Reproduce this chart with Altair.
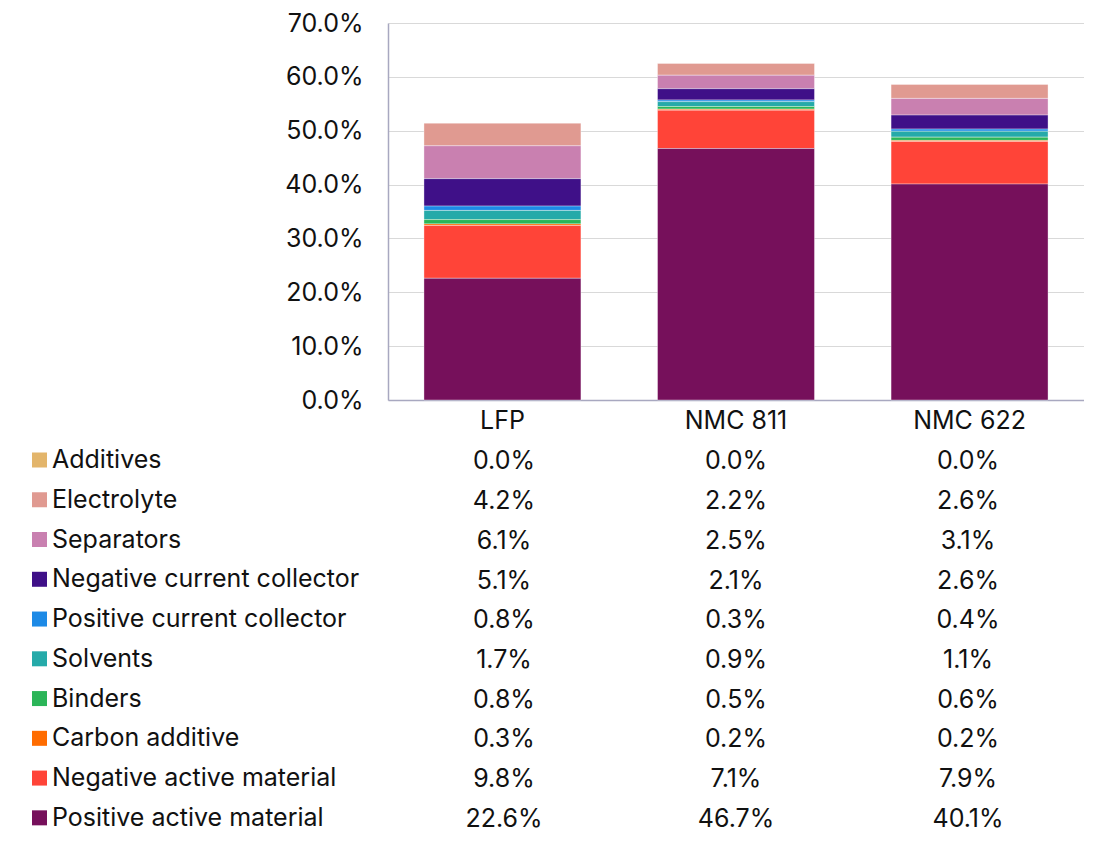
import altair as alt
import pandas as pd

batteries = ["LFP", "NMC 811", "NMC 622"]
components = [
    "Additives",
    "Electrolyte",
    "Separators",
    "Negative current collector",
    "Positive current collector",
    "Solvents",
    "Binders",
    "Carbon additive",
    "Negative active material",
    "Positive active material",
]
colors = [
    "#E3B56B", "#E09A91", "#C980B0", "#3F1088", "#1D8AE6",
    "#25AAA9", "#2BB558", "#FF6C00", "#FF4438", "#76105B",
]
lfp = [0.0, 4.2, 6.1, 5.1, 0.8, 1.7, 0.8, 0.3, 9.8, 22.6]
nmc811 = [0.0, 2.2, 2.5, 2.1, 0.3, 0.9, 0.5, 0.2, 7.1, 46.7]
nmc622 = [0.0, 2.6, 3.1, 2.6, 0.4, 1.1, 0.6, 0.2, 7.9, 40.1]

rows = []
for b, vals in zip(batteries, [lfp, nmc811, nmc622]):
    for i, (c, v) in enumerate(zip(components, vals)):
        rows.append({"battery": b, "component": c, "value": v / 100,
                     "stack": len(components) - i, "row": i})
df = pd.DataFrame(rows)

FONT = "Inter"
FS = 25
TXT = "#111111"

color = alt.Color("component:N",
                  scale=alt.Scale(domain=components, range=colors),
                  legend=alt.Legend(orient="none", legendX=-361, legendY=424.5,
                                    title=None, symbolType="square",
                                    symbolSize=225, symbolStrokeWidth=0,
                                    labelFontSize=FS, labelFont=FONT,
                                    labelColor=TXT, labelOffset=0, padding=0,
                                    rowPadding=13.76, labelLimit=400,
                                    symbolOpacity=1))

xscale = alt.Scale(domain=batteries, paddingInner=0.328, paddingOuter=0.154)

bars = alt.Chart(df).mark_bar(stroke="white", strokeWidth=0.6, strokeOpacity=0.6).encode(
    x=alt.X("battery:N", scale=xscale, sort=batteries, title=None,
            axis=alt.Axis(labelAngle=0, labelFontSize=FS, labelFont=FONT,
                          labelColor=TXT, ticks=False, tickSize=0,
                          labelPadding=8, domainColor="#A8A8C0",
                          domainWidth=1.5)),
    y=alt.Y("value:Q", stack="zero", title=None,
            scale=alt.Scale(domain=[0, 0.7], nice=False),
            axis=alt.Axis(format=".1%", values=[0, 0.1, 0.2, 0.3, 0.4, 0.5, 0.6, 0.7],
                          labelFontSize=FS, labelFont=FONT, labelColor=TXT,
                          ticks=False, tickSize=0, labelPadding=25,
                          domainColor="#A8A8C0", domainWidth=1.5,
                          gridColor="#D9D9D9", gridWidth=1.2)),
    color=color,
    order=alt.Order("stack:Q"),
).properties(width=696, height=377)

table = alt.Chart(df).mark_text(fontSize=FS, font=FONT, color=TXT).encode(
    x=alt.X("battery:N", scale=xscale, sort=batteries, axis=None),
    y=alt.Y("component:N", sort=components, axis=None,
            scale=alt.Scale(type="point", padding=0.1)),
    text=alt.Text("value:Q", format=".1%"),
).properties(width=696, height=365.24)

chart = alt.vconcat(bars, table, spacing=15.5).properties(
    padding={"left": 19, "top": 3, "right": 0, "bottom": 3}
).configure(font=FONT).configure_view(stroke="transparent", strokeWidth=0)

chart.save("out.html", embed_options={"renderer": "svg", "actions": False})
